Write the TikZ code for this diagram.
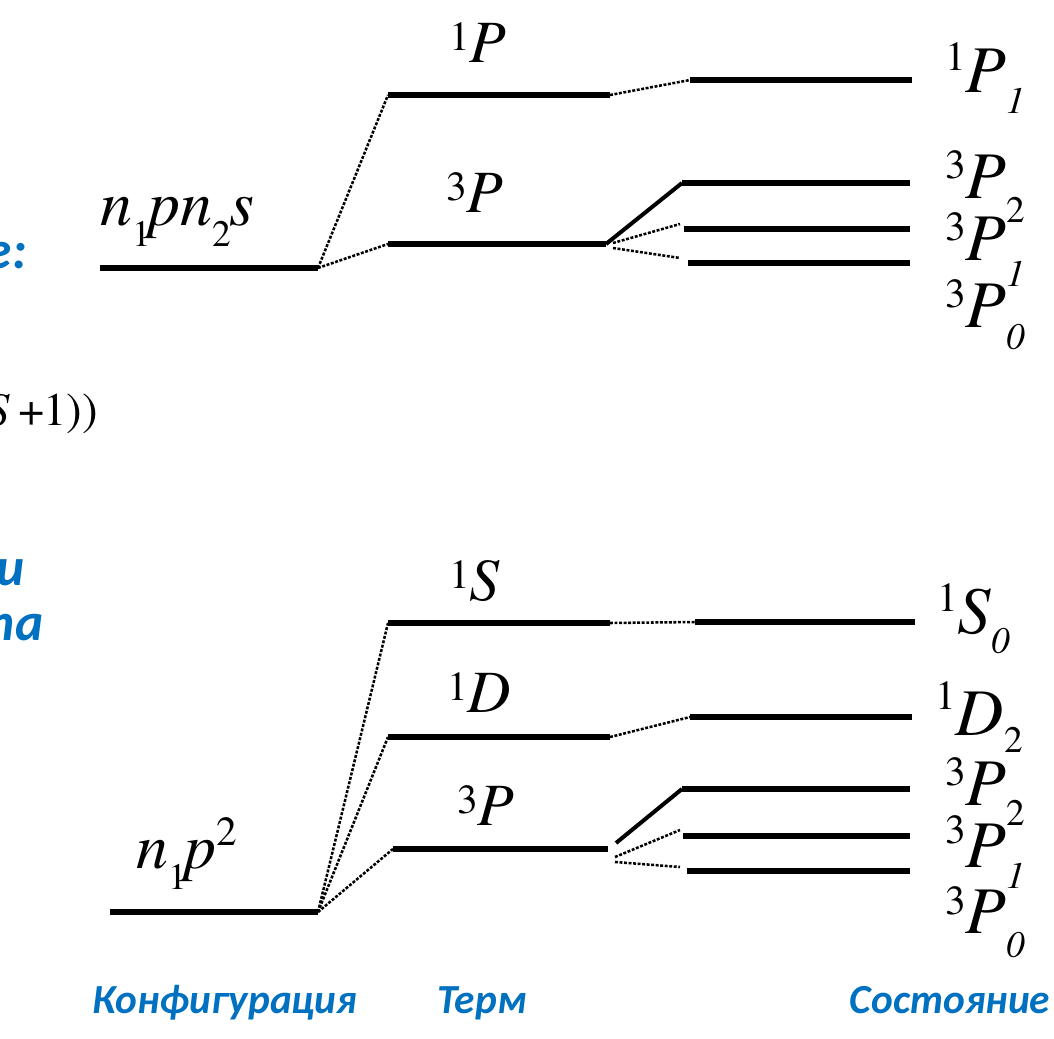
\documentclass[tikz,border=0pt]{standalone}
\usepackage{fontspec}
\IfFontExistsTF{texgyretermes-regular.otf}
  {\newfontfamily\tms{texgyretermes}[Extension=.otf,UprightFont=*-regular,ItalicFont=*-italic,BoldFont=*-bold,BoldItalicFont=*-bolditalic]}
  {\newfontfamily\tms{Liberation Serif}}
\newfontfamily\calfont{Carlito}
\definecolor{slblue}{RGB}{0,112,192}
\newcommand\upx[2]{\raisebox{#1}{\fontsize{31}{31}\selectfont #2}}
\newcommand\dnx[2]{\raisebox{-#1}{\fontsize{28}{28}\selectfont #2}}
\begin{document}
\begin{tikzpicture}[x=0.75pt,y=-0.75pt,
  level/.style={line width=5pt},
  dotc/.style={line width=1.9pt, dash pattern=on 2.2pt off 1.2pt},
  solidc/.style={line width=3pt},
  termlab/.style={inner sep=0pt, anchor=base west, font=\tms\fontsize{45}{45}\selectfont},
  statelab/.style={inner sep=0pt, anchor=base west, font=\tms\fontsize{50}{50}\selectfont},
  cfglab/.style={inner sep=0pt, anchor=base west, font=\tms\fontsize{48}{48}\selectfont},
  capt/.style={inner sep=0pt, anchor=base, text=slblue, font=\calfont\bfseries\itshape\fontsize{31}{31}\selectfont},
  frag/.style={inner sep=0pt, anchor=base east, text=slblue, font=\calfont\bfseries\itshape\fontsize{40}{40}\selectfont}
]
\useasboundingbox (0,0) rectangle (1054,1039);

% ---------------- top diagram ----------------
\coordinate (c1l) at (100,268);  \coordinate (c1r) at (318,268);
\coordinate (ta1l) at (388,95);  \coordinate (ta1r) at (610,95);
\coordinate (ta3l) at (388,244); \coordinate (ta3r) at (606,244);
\coordinate (sa1l) at (690,80);  \coordinate (sa1r) at (912,80);
\coordinate (sa2l) at (682,183); \coordinate (sa2r) at (910,183);
\coordinate (sa3l) at (684,229); \coordinate (sa3r) at (910,229);
\coordinate (sa4l) at (688,263); \coordinate (sa4r) at (910,263);
\coordinate (da1) at (613,243);  \coordinate (da1e) at (680,224);
\coordinate (da2) at (613,248);  \coordinate (da2e) at (680,258);

\draw[level] (c1l) -- (c1r);
\draw[level] (ta1l) -- (ta1r);
\draw[level] (ta3l) -- (ta3r);
\draw[level] (sa1l) -- (sa1r);
\draw[level] (sa2l) -- (sa2r);
\draw[level] (sa3l) -- (sa3r);
\draw[level] (sa4l) -- (sa4r);

\draw[dotc] (c1r) -- (ta1l);
\draw[dotc] (c1r) -- (ta3l);
\draw[dotc] (ta1r) -- (sa1l);
\draw[solidc] (ta3r) -- (sa2l);
\draw[dotc] (da1) -- (da1e);
\draw[dotc] (da2) -- (da2e);

\node[cfglab] (cfgA) at (100,225) {\textit{n}\dnx{16pt}{1}\kern-2pt\textit{pn}\dnx{16pt}{2}\kern-1pt\textit{s}};
\node[termlab] (tA1) at (449,62) {\upx{9pt}{1}\textit{P}};
\node[termlab] (tA3) at (446,212) {\upx{9pt}{3}\textit{P}};
\node[statelab] (sA1) at (945,92) {\upx{16.5pt}{1}\textit{P}\dnx{16pt}{\textit{1}}};
\node[statelab] (sA2) at (945,198) {\upx{15pt}{3}\textit{P}\dnx{18pt}{2}};
\node[statelab] (sA3) at (945,260) {\upx{15pt}{3}\textit{P}\dnx{20pt}{\textit{1}}};
\node[statelab] (sA4) at (945,327) {\upx{15pt}{3}\textit{P}\dnx{17pt}{\textit{0}}};

% ---------------- bottom diagram ----------------
\coordinate (c2l) at (110,912);  \coordinate (c2r) at (318,912);
\coordinate (tb1l) at (388,623); \coordinate (tb1r) at (610,623);
\coordinate (tb2l) at (388,737); \coordinate (tb2r) at (610,737);
\coordinate (tb3l) at (393,849); \coordinate (tb3r) at (608,849);
\coordinate (sb1l) at (695,622); \coordinate (sb1r) at (915,622);
\coordinate (sb2l) at (690,717); \coordinate (sb2r) at (912,717);
\coordinate (sb3l) at (682,789); \coordinate (sb3r) at (910,789);
\coordinate (sb4l) at (683,836); \coordinate (sb4r) at (910,836);
\coordinate (sb5l) at (687,871); \coordinate (sb5r) at (910,871);
\coordinate (sl1) at (616,843);
\coordinate (db1) at (615,857);  \coordinate (db1e) at (680,830);
\coordinate (db2) at (615,862);  \coordinate (db2e) at (680,867);

\draw[level] (c2l) -- (c2r);
\draw[level] (tb1l) -- (tb1r);
\draw[level] (tb2l) -- (tb2r);
\draw[level] (tb3l) -- (tb3r);
\draw[level] (sb1l) -- (sb1r);
\draw[level] (sb2l) -- (sb2r);
\draw[level] (sb3l) -- (sb3r);
\draw[level] (sb4l) -- (sb4r);
\draw[level] (sb5l) -- (sb5r);

\draw[dotc] (c2r) -- (tb1l);
\draw[dotc] (c2r) -- (tb2l);
\draw[dotc] (c2r) -- (tb3l);
\draw[dotc] (tb1r) -- (sb1l);
\draw[dotc] (tb2r) -- (sb2l);
\draw[solidc] (sl1) -- (sb3l);
\draw[dotc] (db1) -- (db1e);
\draw[dotc] (db2) -- (db2e);

\node[cfglab] (cfgB) at (136,868) {\textit{n}\dnx{16pt}{1}\kern-2pt\textit{p}\upx{17pt}{2}};
\node[termlab] (tB1) at (449,600) {\upx{9pt}{1}\textit{S}};
\node[termlab] (tB2) at (447,712) {\upx{9pt}{1}\textit{D}};
\node[termlab] (tB3) at (457,825) {\upx{9pt}{3}\textit{P}};
\node[statelab] (sB1) at (937,633) {\upx{16pt}{1}\textit{S}\dnx{15pt}{\textit{0}}};
\node[statelab] (sB2) at (935,735) {\upx{19pt}{1}\textit{D}\dnx{13pt}{2}};
\node[statelab] (sB3) at (945,805) {\upx{15pt}{3}\textit{P}\dnx{15pt}{2}};
\node[statelab] (sB4) at (945,867) {\upx{18pt}{3}\textit{P}\dnx{16pt}{\textit{1}}};
\node[statelab] (sB5) at (945,933) {\upx{14pt}{3}\textit{P}\dnx{18pt}{\textit{0}}};

% ---------------- captions and cut-off fragments ----------------
\node[capt] (capC) at (225,1013) {Конфигурация};
\node[capt] (capT) at (482,1013) {Терм};
\node[capt] (capS) at (950,1013) {Состояние};

\node[frag] (fr1) at (27,268) {е:};
\node[frag] (fr2) at (25,585) {и};
\node[frag] (fr3) at (44,640) {та};
\node[inner sep=0pt, anchor=base east, font=\tms\fontsize{35}{35}\selectfont] (fr4) at (98,425) {\textit{S}\hspace{6pt}+\kern-1pt 1))};
\end{tikzpicture}
\end{document}
